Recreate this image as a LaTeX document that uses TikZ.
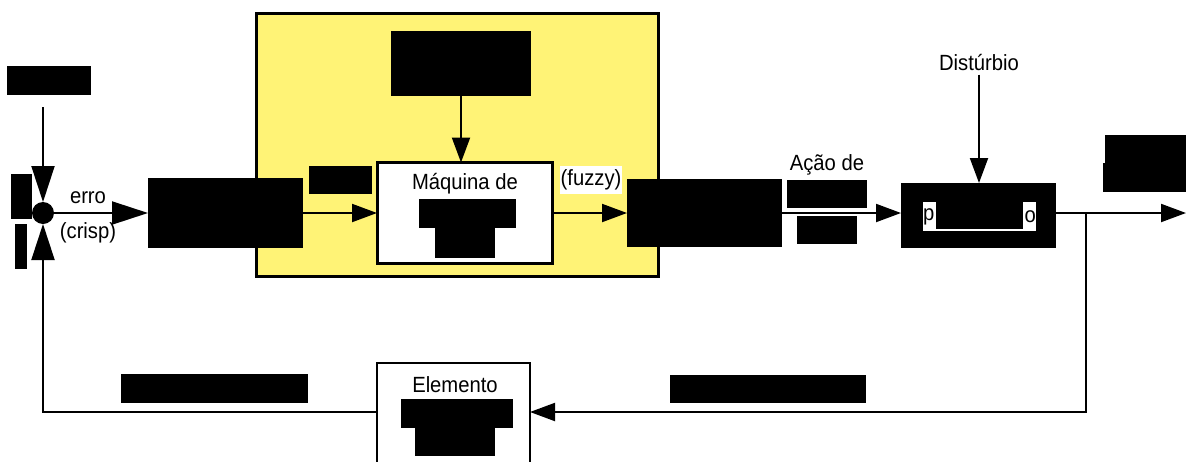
\documentclass[tikz,border=0pt]{standalone}
\usepackage{fontspec}
\setmainfont{Liberation Sans}[FakeStretch=0.92]
\usetikzlibrary{arrows.meta}
\definecolor{fuzzyyellow}{RGB}{255,243,118}
\begin{document}
\begin{tikzpicture}[x=1pt,y=-1pt,
  every node/.style={font=\fontsize{22}{26}\selectfont},
  box/.style={rectangle, inner sep=0pt, outer sep=0pt},
  redact/.style={box, fill=black},
  conn/.style={line width=2pt, -{Triangle[length=25pt,width=18pt]}},
  bigconn/.style={line width=2pt, -{Triangle[length=36pt,width=23pt]}},
  wire/.style={line width=2pt}]
\useasboundingbox (0,0) rectangle (1186,461);

% fuzzy controller region
\node[box, draw, line width=3pt, fill=fuzzyyellow, minimum width=402pt, minimum height=263pt] (fis) at (457,144.5) {};

% reference input and summing junction
\node[redact, minimum width=84pt, minimum height=29pt] (ref) at (49,80.5) {};
\node[circle, fill=black, inner sep=0pt, outer sep=0pt, minimum size=22pt] (sum) at (43,213) {};
\node[redact, minimum width=21pt, minimum height=45pt] (sgna) at (21.5,196.5) {};
\node[redact, minimum width=12pt, minimum height=45pt] (sgnb) at (21,246.5) {};
\node (erro) at (88,198) {erro};
\node (crisp) at (88,233) {(crisp)};

% fuzzification block
\node[redact, minimum width=155pt, minimum height=70pt] (fuzz) at (225.5,213) {};
\node[redact, minimum width=63pt, minimum height=28pt] (fin) at (340.5,180) {};

% rule base and inference machine
\node[redact, minimum width=140pt, minimum height=65pt] (rules) at (461,63.5) {};
\node[box, draw, line width=3pt, fill=white, minimum width=175pt, minimum height=101pt] (mq) at (464.5,213) {};
\node (mqtext) at (465,184) {Máquina de};
\node[redact, minimum width=97pt, minimum height=29pt] (mqa) at (467.5,213.5) {};
\node[redact, minimum width=60pt, minimum height=30pt] (mqb) at (465,242.5) {};
\node[box, fill=white, minimum width=62pt, minimum height=28pt] (fuzzy) at (591,180) {(fuzzy)};

% defuzzification block and control action
\node[redact, minimum width=155pt, minimum height=68pt] (defz) at (704.5,213) {};
\node (acao) at (827,165) {Ação de};
\node[redact, minimum width=80pt, minimum height=28pt] (acaoa) at (827,194) {};
\node[redact, minimum width=60pt, minimum height=28pt] (acaob) at (827,230) {};

% plant
\node[redact, minimum width=155pt, minimum height=65pt] (plant) at (978.5,215.5) {};
\node[box, fill=white, minimum width=113pt, minimum height=29pt] (plantin) at (979.5,216.5) {};
\node[anchor=west, inner sep=0pt] (pp) at (plantin.west) {p};
\node[anchor=east, inner sep=0pt] (po) at (plantin.east) {o};
\node[redact, minimum width=87pt, minimum height=27pt] (plantc) at (979.5,215.5) {};
\node (dist) at (979,63) {Distúrbio};

% output label
\node[redact, minimum width=81pt, minimum height=28pt] (outa) at (1145.5,149) {};
\node[redact, minimum width=83pt, minimum height=29pt] (outb) at (1144.5,177.5) {};

% measuring element and feedback labels
\node[box, draw, line width=2.5pt, fill=white, minimum width=153pt, minimum height=107pt] (elem) at (453.5,416.5) {};
\node (elemtext) at (455,385) {Elemento};
\node[redact, minimum width=112pt, minimum height=29pt] (elema) at (457,413.5) {};
\node[redact, minimum width=80pt, minimum height=28pt] (elemb) at (455,442) {};
\node[redact, minimum width=187pt, minimum height=29pt] (fbl) at (214.5,388.5) {};
\node[redact, minimum width=196pt, minimum height=28pt] (fbr) at (768,389) {};

% connectors
\coordinate (setp) at (43,107);
\coordinate (br) at (1086,213);
\coordinate (out) at (1186,213);
\coordinate (fb) at (1086,412);
\coordinate (fl) at (43,412);
\draw[bigconn] (setp) -- (sum.north);
\draw[bigconn] (sum.east) -- (fuzz.west);
\draw[conn] (fuzz.east) -- (mq.west);
\draw[conn] (rules.south) -- (rules.south |- mq.north);
\draw[conn] (mq.east) -- (defz.west);
\draw[conn] (defz.east) -- (defz.east -| plant.west);
\draw[conn] (dist.south) -- (dist.south |- plant.north);
\draw[conn] (plant.east |- br) -- (out);
\draw[conn] (br) -- (fb) -- (fb -| elem.east);
\draw[bigconn] (fb -| elem.west) -- (fl) -- (sum.south);
\end{tikzpicture}
\end{document}
